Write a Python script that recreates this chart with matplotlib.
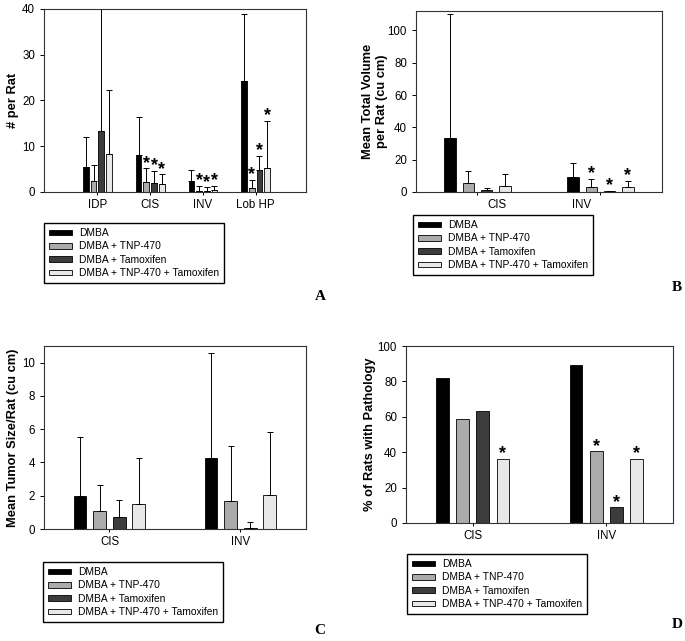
"""
Four bar panels (A-D): DMBA treatment groups, counts, volumes,
tumor size and % of rats with pathology.
"""

import matplotlib.pyplot as plt
import numpy as np
from matplotlib.transforms import ScaledTranslation

plt.rcParams['font.family'] = ['Liberation Sans', 'DejaVu Sans']

groups = ["DMBA", "DMBA + TNP-470", "DMBA + Tamoxifen", "DMBA + TNP-470 + Tamoxifen"]
colors = ["#000000", "#ababab", "#3c3c3c", "#e8e8e8"]

# panel A: number of lesions per rat
cats_a = ["IDP", "CIS", "INV", "Lob HP"]
dmba_a = [5.5, 8.1, 2.4, 24.3]
tnp_a = [2.3, 2.2, 0.3, 0.8]
tam_a = [13.3, 1.9, 0.2, 4.8]
combo_a = [8.2, 1.7, 0.4, 5.2]
dmba_a_err = [6.6, 8.2, 2.4, 14.5]
tnp_a_err = [3.7, 3.0, 1.1, 1.8]
tam_a_err = [32.0, 2.7, 0.8, 3.1]
combo_a_err = [14.1, 2.2, 0.9, 10.4]
dmba_a_star = [0, 0, 0, 0]
tnp_a_star = [0, 1, 1, 1]
tam_a_star = [0, 1, 1, 1]
combo_a_star = [0, 1, 1, 1]

# panel B: mean total volume per rat
cats_b = ["CIS", "INV"]
dmba_b = [33.2, 9.3]
tnp_b = [5.4, 2.9]
tam_b = [1.2, 0.3]
combo_b = [3.7, 2.9]
dmba_b_err = [77.0, 8.4]
tnp_b_err = [7.8, 5.3]
tam_b_err = [1.5, 0.3]
combo_b_err = [7.6, 4.1]
dmba_b_star = [0, 0]
tnp_b_star = [0, 1]
tam_b_star = [0, 1]
combo_b_star = [0, 1]

# panel C: mean tumor size per rat
cats_c = ["CIS", "INV"]
dmba_c = [1.97, 4.26]
tnp_c = [1.06, 1.67]
tam_c = [0.72, 0.06]
combo_c = [1.53, 2.07]
dmba_c_err = [3.57, 6.34]
tnp_c_err = [1.57, 3.29]
tam_c_err = [1.01, 0.34]
combo_c_err = [2.75, 3.75]

# panel D: % of rats with pathology
cats_d = ["CIS", "INV"]
dmba_d = [82.1, 89.2]
tnp_d = [58.9, 40.6]
tam_d = [63.4, 8.9]
combo_d = [36.2, 36.2]
dmba_d_star = [0, 0]
tnp_d_star = [0, 1]
tam_d_star = [0, 1]
combo_d_star = [1, 1]


def draw_panel(ax, cats, values, errors, stars, pitch, width):
    """
    Grouped bars with upper error bars and significance stars.
    """
    x = np.arange(len(cats))
    for i, vals in enumerate(values):
        vals = np.array(vals, dtype=float)
        pos = x + (i - 1.5) * pitch
        ax.bar(pos, vals, width, color=colors[i], edgecolor='black',
               linewidth=0.6, label=groups[i], zorder=2)
        tops = vals
        if errors is not None:
            err = np.array(errors[i], dtype=float)
            ax.errorbar(pos, vals, yerr=[np.zeros(len(vals)), err], fmt='none',
                        ecolor='black', elinewidth=0.7, capsize=2, capthick=0.7,
                        zorder=3)
            tops = vals + err
        if stars is not None:
            for p, t, s in zip(pos, tops, stars[i]):
                if s:
                    ax.annotate('*', (p, t), xytext=(0, -2.5), textcoords='offset points',
                                ha='center', va='bottom', fontsize=13,
                                fontweight='bold', zorder=4)
    ax.set_xticks(x)
    ax.set_xticklabels(cats, fontsize=8.3)
    ax.tick_params(axis='y', labelsize=8.3, direction='out', length=3, width=0.7)
    ax.tick_params(axis='x', direction='out', length=2, width=0.7, pad=3)
    for sp in ax.spines.values():
        sp.set_linewidth(0.8)
        sp.set_color('#333333')


def add_legend(fig, ax, anchor):
    fig.legend(*ax.get_legend_handles_labels(), loc='upper left',
               bbox_to_anchor=anchor, bbox_transform=fig.transFigure,
               fontsize=7.4, frameon=True, fancybox=False, edgecolor='black',
               framealpha=1, handlelength=2.2, handleheight=0.45,
               handletextpad=0.7, labelspacing=0.32, borderpad=0.5,
               borderaxespad=0)


fig = plt.figure(figsize=(6.85, 6.41), dpi=100)

ax_a = fig.add_axes([0.0642, 0.7005, 0.3825, 0.2855])
draw_panel(ax_a, cats_a, [dmba_a, tnp_a, tam_a, combo_a],
           [dmba_a_err, tnp_a_err, tam_a_err, combo_a_err],
           [dmba_a_star, tnp_a_star, tam_a_star, combo_a_star], 0.146, 0.108)
ax_a.set_xlim(-1.015, 3.956)
ax_a.set_ylim(0, 40)
ax_a.set_yticks([0, 10, 20, 30, 40])
ax_a.set_ylabel("# per Rat", fontsize=9.3, fontweight='bold', labelpad=2)
add_legend(fig, ax_a, (0.0642, 1 - 223 / 641))

ax_b = fig.add_axes([0.6073, 0.7005, 0.3591, 0.2823])
draw_panel(ax_b, cats_b, [dmba_b, tnp_b, tam_b, combo_b],
           [dmba_b_err, tnp_b_err, tam_b_err, combo_b_err],
           [dmba_b_star, tnp_b_star, tam_b_star, combo_b_star], 0.149, 0.092)
ax_b.set_xlim(-0.5, 1.5)
ax_b.set_ylim(0, 112)
ax_b.set_yticks([0, 20, 40, 60, 80, 100])
ax_b.set_ylabel("Mean Total Volume\nper Rat (cu cm)", fontsize=9.3,
                fontweight='bold', labelpad=0)
# category labels in B sit off the group centres in the original
for lab, dx in zip(ax_b.get_xticklabels(), [19, -19]):
    lab.set_transform(lab.get_transform() + ScaledTranslation(dx / 100, 0, fig.dpi_scale_trans))
add_legend(fig, ax_b, (413 / 685, 1 - 215 / 641))

ax_c = fig.add_axes([0.0642, 0.1747, 0.3825, 0.2855])
draw_panel(ax_c, cats_c, [dmba_c, tnp_c, tam_c, combo_c],
           [dmba_c_err, tnp_c_err, tam_c_err, combo_c_err], None, 0.15, 0.099)
ax_c.set_xlim(-0.5, 1.5)
ax_c.set_ylim(0, 11)
ax_c.set_yticks([0, 2, 4, 6, 8, 10])
ax_c.set_ylabel("Mean Tumor Size/Rat (cu cm)", fontsize=9.3, fontweight='bold', labelpad=2)
add_legend(fig, ax_c, (43 / 685, 1 - 562 / 641))

ax_d = fig.add_axes([0.5927, 0.1841, 0.3898, 0.2761])
draw_panel(ax_d, cats_d, [dmba_d, tnp_d, tam_d, combo_d], None,
           [dmba_d_star, tnp_d_star, tam_d_star, combo_d_star], 0.15, 0.094)
ax_d.set_xlim(-0.5, 1.5)
ax_d.set_ylim(0, 100)
ax_d.set_yticks([0, 20, 40, 60, 80, 100])
ax_d.set_ylabel("% of Rats with Pathology", fontsize=9.3, fontweight='bold', labelpad=1)
add_legend(fig, ax_d, (407 / 685, 1 - 554 / 641))

# panel letters
for letter, (px, py) in zip("ABCD", [(320, 297), (677, 287), (320, 630), (677, 624)]):
    fig.text(px / 685, 1 - py / 641, letter, ha='center', va='center', fontsize=11,
             fontweight='bold', family=['Liberation Serif', 'DejaVu Serif'])

fig.savefig("out.png", dpi=100)
